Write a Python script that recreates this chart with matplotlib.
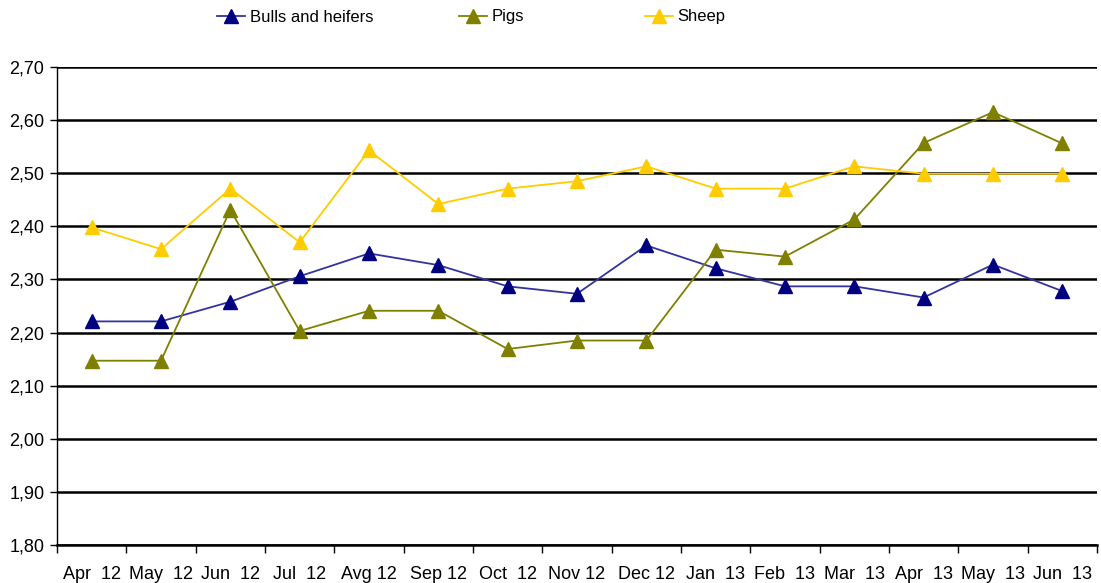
import matplotlib.pyplot as plt

plt.rcParams['font.family'] = ['Liberation Sans Narrow', 'Liberation Sans', 'DejaVu Sans']

months = ["Apr  12", "May  12", "Jun  12", "Jul  12", "Avg 12", "Sep 12", "Oct  12", "Nov 12",
          "Dec 12", "Jan  13", "Feb  13", "Mar  13", "Apr  13", "May  13", "Jun  13"]

bulls = [2.221, 2.221, 2.258, 2.306, 2.349, 2.327, 2.287, 2.273, 2.364, 2.321,
         2.287, 2.287, 2.266, 2.328, 2.278]
pigs = [2.147, 2.147, 2.431, 2.203, 2.241, 2.241, 2.169, 2.185, 2.185, 2.356,
        2.343, 2.413, 2.557, 2.615, 2.556]
sheep = [2.398, 2.357, 2.471, 2.370, 2.543, 2.442, 2.471, 2.485, 2.513, 2.471,
         2.471, 2.513, 2.499, 2.499, 2.499]

yticks = [1.8, 1.9, 2.0, 2.1, 2.2, 2.3, 2.4, 2.5, 2.6, 2.7]

fig = plt.figure(figsize=(11.01, 5.83), dpi=100)
ax = fig.add_axes([57 / 1101, 1 - 545 / 583, 1040 / 1101, 478 / 583])

x = range(len(months))
l1, = ax.plot(x, bulls, color='#3333a0', lw=1.3, marker='^', ms=10,
              mfc='#000080', mec='#000080', label='Bulls and heifers', zorder=3)
l2, = ax.plot(x, pigs, color='#808000', lw=1.3, marker='^', ms=10,
              mfc='#808000', mec='#808000', label='Pigs', zorder=3)
l3, = ax.plot(x, sheep, color='#ffcc00', lw=1.3, marker='^', ms=10,
              mfc='#ffcc00', mec='#ffcc00', label='Sheep', zorder=3)

ax.set_xlim(-0.5, len(months) - 0.5)
ax.set_ylim(1.8, 2.7)
ax.set_yticks(yticks)
ax.set_yticklabels([f"{v:.2f}".replace('.', ',') for v in yticks], fontsize=13)
ax.set_xticks(list(x))
ax.set_xticklabels(months, fontsize=13)
ax.set_xticks([i - 0.5 for i in range(len(months) + 1)], minor=True)
ax.tick_params(axis='x', which='major', length=0, pad=15)
ax.tick_params(axis='x', which='minor', length=6, width=1, direction='out')
ax.tick_params(axis='y', length=5, width=1, direction='out', pad=4)

ax.grid(axis='y', color='black', lw=1.8, zorder=1)
for s in ['top', 'right']:
    ax.spines[s].set_visible(False)
ax.spines['left'].set_linewidth(1)
ax.spines['bottom'].set_linewidth(1.8)

for line, xpos in [(l1, 217), (l2, 459), (l3, 645)]:
    fig.legend(handles=[line], loc='center left', bbox_to_anchor=(xpos / 1101, 1 - 17 / 583),
               frameon=False, fontsize=12, borderpad=0, borderaxespad=0,
               handlelength=1.7, handletextpad=0.25, markerscale=1.0)

fig.savefig('out.png', dpi=100)
